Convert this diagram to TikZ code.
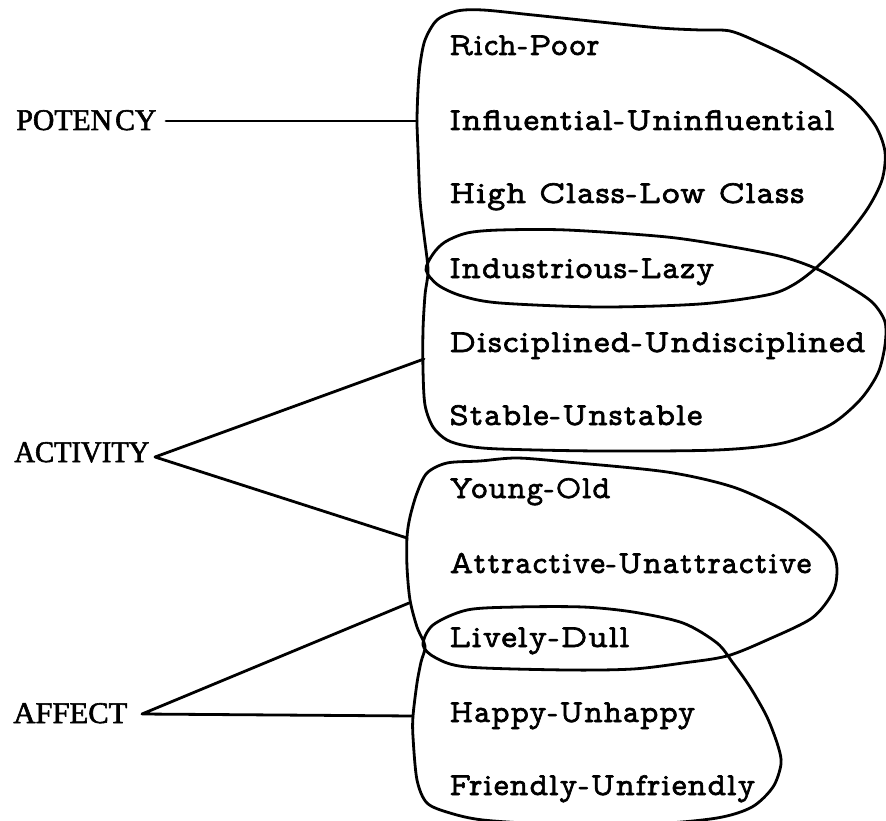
\documentclass[tikz,border=0pt]{standalone}
\usepackage{graphicx}
\usepackage{fontspec}
\newfontfamily\labfont{Liberation Serif}[FakeBold=2]
\newfontfamily\itemfont{lmmonoprop10-regular}[Extension=.otf, LetterSpace=3, FakeBold=2]
\newcommand\fitw[2]{\resizebox{#1pt}{\height}{#2}}
\begin{document}
\begin{tikzpicture}[x=1pt,y=-1pt, line width=2.8pt, line cap=round, line join=round,
  itemtext/.style={anchor=base west, inner sep=0pt, font=\itemfont\fontsize{32}{38}\selectfont},
  dimtext/.style={anchor=base west, inner sep=0pt, font=\labfont\fontsize{30}{36}\selectfont},
  blob/.style={line width=2.8pt},
  link/.style={line width=2.8pt}]
\useasboundingbox (0,0) rectangle (886,821);

% dimension labels
\node[dimtext] (potency) at (15,130) {\fitw{140}{POTEN\kern3pt CY}};
\node[dimtext] (activity) at (13,462) {\fitw{135}{ACTIVITY}};
\node[dimtext] (affect) at (12,723) {\fitw{114}{AFFECT}};

% items
\node[itemtext] (i1) at (448,55) {\fitw{150}{Rich-Poor}};
\node[itemtext] (i2) at (448,130) {\fitw{385}{Influential-Uninfluential}};
\node[itemtext] (i3) at (448,203) {\fitw{355}{High Class-Low Class}};
\node[itemtext] (i4) at (448,278) {\fitw{265}{Industrious-Lazy}};
\node[itemtext] (i5) at (448,352) {\fitw{416}{Disciplined-Undisciplined}};
\node[itemtext] (i6) at (448,425) {\fitw{253}{Stable-Unstable}};
\node[itemtext] (i7) at (448,498) {\fitw{161}{Young-Old}};
\node[itemtext] (i8) at (448,573) {\fitw{362}{Attractive-Unattractive}};
\node[itemtext] (i9) at (448,647) {\fitw{180}{Lively-Dull}};
\node[itemtext] (i10) at (448,722) {\fitw{246}{Happy-Unhappy}};
\node[itemtext] (i11) at (448,795) {\fitw{306}{Friendly-Unfriendly}};

% upper pair of clusters (potency / activity)
\draw[blob] plot[smooth cycle, tension=0.5] coordinates {
 (437,20) (457,11) (483,10) (533,15) (600,22) (660,28) (700,30) (730,31) (760,43) (800,63)
 (850,97) (875,125) (885,152) (882,180) (868,208) (845,238) (817,267) (793,285)
 (767,295) (700,304) (600,307) (500,303) (462,296) (438,285) (426,270) (433,254)
 (445,242) (467,233) (500,230) (567,230) (667,237) (733,247) (783,257) (817,269)
 (850,287) (873,303) (885,322) (885,345) (878,373) (860,400) (830,425) (783,443)
 (717,450) (600,451) (500,449) (467,446) (447,440) (433,427) (425,405) (423,370)
 (423,330) (425,295) (428,270) (424,235) (420,200) (418,150) (417,121) (418,90)
 (420,65) (425,40)};

% lower pair of clusters (activity / affect)
\draw[blob] plot[smooth cycle, tension=0.5] coordinates {
 (427,473) (447,463) (480,461) (517,458) (567,462) (667,472) (733,487) (783,510)
 (818,535) (833,553) (837,570) (833,592) (812,618) (767,640) (727,656) (683,663)
 (633,669) (567,670) (467,667) (436,658) (423,645) (433,625) (467,610) (517,607)
 (583,607) (633,612) (683,623) (717,643) (733,663) (750,687) (767,717) (778,746)
 (781,764) (773,787) (752,807) (717,818) (650,824) (550,824) (483,820) (450,813)
 (427,803) (417,780) (413,737) (413,716) (417,683) (421,662) (425,646) (417,627)
 (410,600) (407,567) (407,537) (410,517) (417,493)};

% connector ends
\coordinate (potV) at (166,121);
\coordinate (pA) at (417,121);
\coordinate (actV) at (155,457);
\coordinate (aU) at (424,359);
\coordinate (aL) at (407,538);
\coordinate (affV) at (142,714);
\coordinate (fU) at (409,603);
\coordinate (fL) at (413,716);

\draw[link] (potV) -- (pA);
\draw[link] (aU) -- (actV) -- (aL);
\draw[link] (fU) -- (affV) -- (fL);
\end{tikzpicture}
\end{document}
